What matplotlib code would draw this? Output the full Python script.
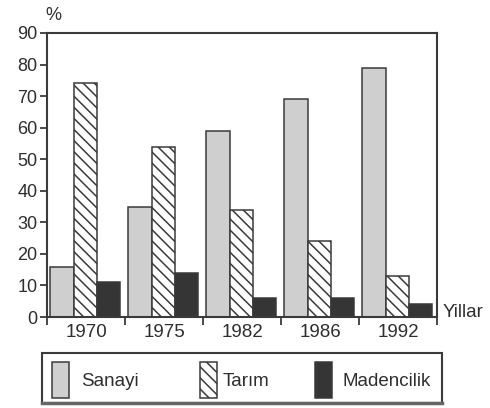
import numpy as np
import matplotlib.pyplot as plt
from matplotlib.patches import Rectangle

plt.rcParams['font.family'] = ['Liberation Sans', 'DejaVu Sans']
plt.rcParams['hatch.linewidth'] = 1.1

# Data (% share per sector)
years = ['1970', '1975', '1982', '1986', '1992']
sanayi = [16, 35, 59, 69, 79]
tarim = [74, 54, 34, 24, 13]
madencilik = [11, 14, 6, 6, 4]
series_names = ['Sanayi', 'Tarım', 'Madencilik']

ink = '#3a3a3a'
txt = '#2e2e2e'
faces = ['#cfcfcf', 'white', '#353535']
hatches = [None, '\\\\\\', None]

fig = plt.figure(figsize=(4.9, 4.08), dpi=100)
ax = fig.add_axes([47/490, 1 - 317/408, 390/490, 284/408])

# Bars: each year occupies one unit on x, three bars side by side
x = np.arange(len(years))
w = 0.3
for k, vals in enumerate([sanayi, tarim, madencilik]):
    ax.bar(x + 0.04 + k * w, vals, width=w, align='edge',
           color=faces[k], edgecolor=ink, linewidth=1.1, hatch=hatches[k])

ax.set_xlim(0, len(years))
ax.set_ylim(0, 90)
ax.set_yticks(range(0, 91, 10))

# Year labels centred in their group, ticks at group borders
ax.set_xticks(x + 0.5)
ax.set_xticklabels(years, fontsize=13.5)
ax.set_xticks(np.arange(len(years) + 1), minor=True)
ax.tick_params(axis='x', which='major', length=0, pad=5)
ax.tick_params(axis='x', which='minor', length=6, width=1.3, color=ink, direction='out')
ax.tick_params(axis='y', length=5, width=1.3, color=ink, pad=2, labelsize=13)
ax.tick_params(labelcolor=txt)

for s in ax.spines.values():
    s.set_color(ink)
    s.set_linewidth(1.5)

ax.text(-0.005, 1.03, '%', transform=ax.transAxes, fontsize=13, color=txt,
        ha='left', va='bottom')
ax.text(1.015, 0.015, 'Yillar', transform=ax.transAxes, fontsize=13.5, color=txt,
        ha='left', va='center')

# Legend box drawn by hand to match the boxed strip under the chart
def fx(px):
    return px / 490

def fy(py):
    return 1 - py / 408

fig.add_artist(Rectangle((fx(42), fy(403)), fx(442) - fx(42), fy(353) - fy(403),
                         transform=fig.transFigure, fill=False, edgecolor=ink, linewidth=1.5))
fig.add_artist(plt.Line2D([fx(42), fx(442)], [fy(402.5), fy(402.5)],
                          transform=fig.transFigure, color='#666666', linewidth=2.5))
patch_x = [52, 200, 315]
text_x = [81, 223, 343]
for k, name in enumerate(series_names):
    fig.add_artist(Rectangle((fx(patch_x[k]), fy(398)), 17/490, 36/408,
                             transform=fig.transFigure, facecolor=faces[k],
                             edgecolor=ink, linewidth=1.1, hatch=hatches[k]))
    fig.text(fx(text_x[k]), fy(381), name, fontsize=13.5, color=txt,
             ha='left', va='center')

fig.savefig('out.png', dpi=100)
